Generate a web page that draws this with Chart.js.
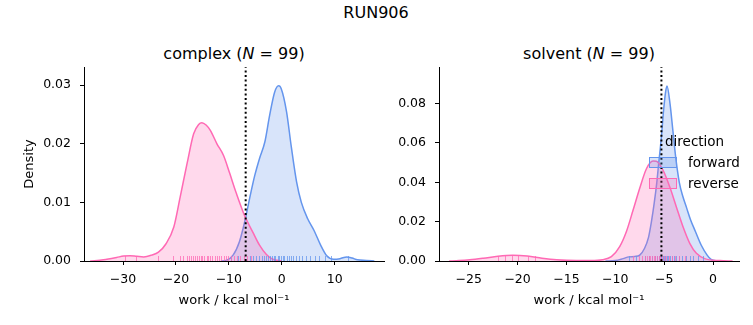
<!DOCTYPE html>
<html><head><meta charset="utf-8">
<script src="https://cdn.jsdelivr.net/npm/chart.js@4.4.1/dist/chart.umd.min.js"></script>
<style>
body{margin:0;background:#fff;width:753px;height:325px;position:relative;overflow:hidden;font-family:"DejaVu Sans",sans-serif;color:#000}
canvas{position:absolute;top:0}
.t{position:absolute;white-space:nowrap;transform:translate(-50%,-50%);line-height:1}
.lg{position:absolute;white-space:nowrap;line-height:1;font-size:13.5px}
.patch{position:absolute;width:26px;height:9px;border:1px solid}
</style></head><body>
<div class="t" style="left:376px;top:13px;font-size:16px">RUN906</div>
<div class="t" style="left:234px;top:54px;font-size:16px">complex (<i>N</i> = 99)</div>
<div class="t" style="left:589px;top:54px;font-size:16px">solvent (<i>N</i> = 99)</div>
<canvas id="c1" width="390" height="325" style="left:0px;width:390px;height:325px"></canvas>
<canvas id="c2" width="363" height="325" style="left:390px;width:363px;height:325px"></canvas>
<div id="legend"></div>
<script>
// ---- data ----
const seriesNames = ['forward', 'reverse'];
const seriesColors = ['#6495ED', '#FF69B4'];
const legendTitle = 'direction';
const panelTitles = ['complex', 'solvent'];

// KDE curves: [work, density]
const complexForward = [[-11.5,0],[-10.5,0.0001],[-9.2,0.001],[-8.0,0.0033],[-7.0,0.0067],[-6.07,0.0107],[-5.1,0.0146],[-4.2,0.0175],[-3.2,0.0203],[-2.3,0.0248],[-1.35,0.0288],[-0.6,0.0299],[-0.1,0.0294],[0.9,0.0255],[1.8,0.0195],[2.8,0.0135],[3.7,0.0100],[4.9,0.0072],[6.1,0.0052],[7.3,0.0028],[8.5,0.0009],[9.8,0.0003],[11.0,0.0004],[12.3,0.0007],[13.3,0.0005],[14.3,0.0002],[16.0,0.0001],[17.5,0]];
const complexReverse = [[-36.2,0],[-33.7,0.0002],[-31.2,0.0006],[-29.9,0.00085],[-28.7,0.0009],[-27.4,0.0008],[-26.1,0.0007],[-24.6,0.001],[-23.3,0.0015],[-21.9,0.0029],[-20.4,0.0058],[-19.2,0.0109],[-17.9,0.0166],[-16.65,0.0217],[-15.7,0.0233],[-15.1,0.0236],[-14.3,0.0232],[-13.5,0.0223],[-12.25,0.0200],[-11.0,0.0180],[-9.85,0.0150],[-8.6,0.0116],[-7.0,0.0077],[-5.4,0.0048],[-4.2,0.0027],[-2.9,0.0011],[-1.7,0.0003],[0,0]];
const solventForward = [[-11.0,0],[-10.0,0.0002],[-9.2,0.0012],[-8.6,0.0021],[-8.0,0.0023],[-7.5,0.003],[-7.0,0.0065],[-6.6,0.012],[-6.3,0.020],[-6.0,0.030],[-5.75,0.040],[-5.55,0.050],[-5.3,0.062],[-5.05,0.077],[-4.85,0.086],[-4.71,0.089],[-4.4,0.080],[-4.1,0.066],[-3.8,0.052],[-3.45,0.040],[-3.1,0.033],[-2.7,0.027],[-2.3,0.021],[-1.8,0.015],[-1.2,0.008],[-0.6,0.003],[-0.2,0.0008],[0.3,0.0001],[1.0,0]];
const solventReverse = [[-27.0,0],[-26.0,0.0002],[-24.9,0.0006],[-23.5,0.0014],[-22.0,0.0024],[-20.5,0.0029],[-19.0,0.0025],[-17.5,0.0014],[-16.0,0.0006],[-14.0,0.0002],[-12.5,0.0002],[-11.3,0.0006],[-10.4,0.0022],[-9.55,0.0073],[-8.86,0.0150],[-8.2,0.0255],[-7.5,0.0370],[-6.8,0.0470],[-6.14,0.0508],[-5.8,0.0507],[-5.1,0.0460],[-4.43,0.0377],[-3.75,0.0275],[-3.07,0.0174],[-2.38,0.009],[-1.7,0.0039],[-0.85,0.0012],[0.7,0.0002],[2.0,0]];

// rug (individual work values)
const complexForwardRug = [-9.5,-8.3,-6.0,-5.4,-4.9,-4.3,-3.8,-3.4,-3.0,-2.6,-2.2,-1.9,-1.5,-1.2,-0.8,-0.5,-0.2,0.2,0.5,0.9,1.3,1.7,2.2,2.7,3.3,3.9,4.6,5.3,6.2,7.0,8.1,9.3,12.6];
const complexReverseRug = [-29.6,-27.6,-23.4,-20.5,-19.3,-18.6,-18.0,-17.6,-17.1,-16.8,-16.4,-16.0,-15.7,-15.3,-15.0,-14.6,-14.2,-13.9,-13.5,-13.1,-12.7,-12.3,-11.8,-11.4,-11.0,-10.5,-10.1,-9.6,-9.0,-8.4,-7.8,-7.2,-6.6,-5.9];
const solventForwardRug = [-8.6,-7.9,-7.0,-6.5,-6.2,-5.9,-5.7,-5.5,-5.3,-5.1,-5.0,-4.9,-4.7,-4.6,-4.4,-4.2,-4.0,-3.8,-3.5,-3.2,-2.8,-2.4,-2.0,-1.5,-1.0];
const solventReverseRug = [-22.0,-21.3,-20.6,-20.0,-18.9,-18.2,-8.2,-7.6,-7.3,-7.0,-6.8,-6.6,-6.4,-6.2,-6.0,-5.9,-5.7,-5.5,-5.4,-5.2,-5.0,-4.8,-4.5,-4.2,-3.9,-3.5,-2.9];

// dotted reference lines
const complexRefLine = -6.82;
const solventRefLine = -5.28;

// axes
const complexXRange = [-37.37, 19.32];
const complexYMax = 0.0331;
const solventXRange = [-28.04, 2.66];
const solventYMax = 0.0986;
const complexXTicks = [-30, -20, -10, 0, 10];
const complexYTicks = [0, 0.01, 0.02, 0.03];
const solventXTicks = [-25, -20, -15, -10, -5, 0];
const solventYTicks = [0, 0.02, 0.04, 0.06, 0.08];
const xLabel = 'work / kcal mol\u207B\u00B9';
const yLabel = 'Density';

// ---- rendering ----
const FONT = 'DejaVu Sans';
function rgba(hex, a){const n=parseInt(hex.slice(1),16);return `rgba(${n>>16&255},${n>>8&255},${n&255},${a})`;}
const toPts = arr => arr.map(p => ({x:p[0], y:p[1]}));

const rugPlugin = {
  id: 'rug',
  beforeDatasetDraw(chart, args, opts){
    if (args.index !== 2) return;
    const {ctx, chartArea, scales} = chart;
    (opts.sets || []).forEach(s => {
      ctx.save();
      ctx.strokeStyle = rgba(s.color, 0.75);
      ctx.lineWidth = 1;
      s.values.forEach(v => {
        const px = Math.round(scales.x.getPixelForValue(v)) + 0.5;
        ctx.beginPath();
        ctx.moveTo(px, chartArea.bottom);
        ctx.lineTo(px, chartArea.bottom - 5);
        ctx.stroke();
      });
      ctx.restore();
    });
  }
};

function makePanel(id, o){
  const fwdColor = seriesColors[0], revColor = seriesColors[1];
  new Chart(document.getElementById(id), {
    type: 'line',
    data: { datasets: [
      { label: seriesNames[0], data: toPts(o.fwd), borderColor: fwdColor, backgroundColor: rgba(fwdColor,0.25), fill: 'origin', borderWidth: 1.5, pointRadius: 0, cubicInterpolationMode: 'monotone', order: 2 },
      { label: seriesNames[1], data: toPts(o.rev), borderColor: revColor, backgroundColor: rgba(revColor,0.25), fill: 'origin', borderWidth: 1.5, pointRadius: 0, cubicInterpolationMode: 'monotone', order: 1 },
      { label: 'ref', data: [{x:o.ref, y:0}, {x:o.ref, y:o.yMax}], borderColor: '#000', borderWidth: 2, borderDash: [2, 2.6], borderCapStyle: 'butt', pointRadius: 0, fill: false, order: 0 }
    ]},
    options: {
      responsive: false, animation: false, devicePixelRatio: 1,
      layout: { padding: { left: 0, right: o.padRight, top: 67, bottom: 0 } },
      plugins: { legend: { display: false }, tooltip: { enabled: false },
        rug: { sets: [ {values: o.fwdRug, color: fwdColor}, {values: o.revRug, color: revColor} ] } },
      scales: {
        x: { type: 'linear', min: o.xRange[0], max: o.xRange[1],
          afterBuildTicks: a => { a.ticks = o.xTicks.map(v => ({value: v})); },
          afterFit: a => { a.height = 64; },
          grid: { display: true, drawOnChartArea: false, drawTicks: true, tickLength: 4, color: '#000', lineWidth: 1 },
          border: { display: true, color: '#000', width: 1 },
          ticks: { color: '#000', font: { family: FONT, size: 12.5 }, padding: 7, maxRotation: 0, autoSkip: false,
            callback: v => String(v).replace('-', '\u2212') },
          title: { display: true, text: xLabel, color: '#000', font: { family: FONT, size: 13 }, padding: { top: 0, bottom: 17 } } },
        y: { type: 'linear', min: 0, max: o.yMax,
          afterBuildTicks: a => { a.ticks = o.yTicks.map(v => ({value: v})); },
          afterFit: a => { a.width = o.yWidth; },
          grid: { display: true, drawOnChartArea: false, drawTicks: true, tickLength: 4, color: '#000', lineWidth: 1 },
          border: { display: true, color: '#000', width: 1 },
          ticks: { color: '#000', font: { family: FONT, size: 12.5 }, padding: 9, callback: v => Number(v).toFixed(2) },
          title: { display: o.showY, text: yLabel, color: '#000', font: { family: FONT, size: 13 }, padding: { top: 22, bottom: 0 } } }
      }
    },
    plugins: [rugPlugin]
  });
}

makePanel('c1', { fwd: complexForward, rev: complexReverse, fwdRug: complexForwardRug, revRug: complexReverseRug,
  ref: complexRefLine, xRange: complexXRange, yMax: complexYMax, xTicks: complexXTicks, yTicks: complexYTicks,
  padRight: 6, yWidth: 84, showY: true });
makePanel('c2', { fwd: solventForward, rev: solventReverse, fwdRug: solventForwardRug, revRug: solventReverseRug,
  ref: solventRefLine, xRange: solventXRange, yMax: solventYMax, xTicks: solventXTicks, yTicks: solventYTicks,
  padRight: 14, yWidth: 49, showY: false });

// legend (HTML, built from series arrays)
const lg = document.getElementById('legend');
let html = `<div class="lg" style="left:665px;top:135px">${legendTitle}</div>`;
seriesNames.forEach((n, i) => {
  const top = 157 + i * 21;
  html += `<div class="patch" style="left:649px;top:${top}px;border-color:${seriesColors[i]};background:${rgba(seriesColors[i],0.25)}"></div>`;
  html += `<div class="lg" style="left:688px;top:${top - 1}px">${n}</div>`;
});
lg.innerHTML = html;
</script>
</body></html>
